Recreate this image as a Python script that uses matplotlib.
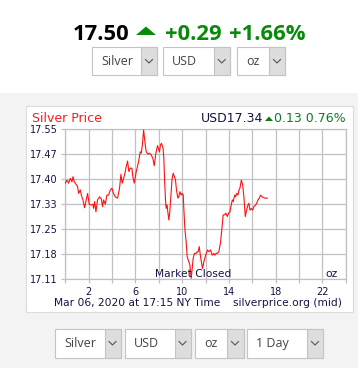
import matplotlib
matplotlib.use('Agg')
import matplotlib.pyplot as plt
from matplotlib.patches import Rectangle, Polygon

# price trace, hours (NY time) vs USD/oz
hours = [0.00, 0.14, 0.28, 0.43, 0.57, 0.66, 0.77, 0.91, 1.05, 1.14, 1.28, 1.37,
         1.51, 1.65, 1.79, 1.91, 2.05, 2.22, 2.36, 2.42, 2.51, 2.62, 2.76, 2.93,
         3.08, 3.19, 3.28, 3.42, 3.56, 3.70, 3.85, 3.99, 4.13, 4.27, 4.47, 4.64,
         4.76, 4.87, 4.99, 5.10, 5.21, 5.33, 5.44, 5.56, 5.70, 5.78, 5.90, 6.07,
         6.27, 6.41, 6.50, 6.61, 6.70, 6.81, 6.92, 7.07, 7.21, 7.35, 7.49, 7.61,
         7.75, 7.89, 8.06, 8.14, 8.23, 8.37, 8.43, 8.49, 8.57, 8.63, 8.71, 8.77,
         8.86, 8.94, 9.06, 9.14, 9.23, 9.34, 9.43, 9.51, 9.63, 9.71, 9.80, 9.91,
         10.00, 10.09, 10.14, 10.23, 10.34, 10.43, 10.57, 10.66, 10.71, 10.77,
         10.86, 10.94, 11.06, 11.20, 11.29, 11.37, 11.46, 11.57, 11.66, 11.74,
         11.86, 11.94, 12.06, 12.17, 12.29, 12.43, 12.57, 12.71, 12.80, 12.91,
         13.00, 13.14, 13.29, 13.37, 13.51, 13.63, 13.74, 13.86, 13.97, 14.09,
         14.14, 14.29, 14.37, 14.49, 14.57, 14.66, 14.77, 14.86, 14.94, 15.06,
         15.17, 15.29, 15.40, 15.51, 15.63, 15.71, 15.80, 15.91, 16.03, 16.14,
         16.29, 16.37, 16.49, 16.60, 16.71, 16.83, 16.94, 17.09, 17.29]
prices = [17.392, 17.401, 17.392, 17.406, 17.396, 17.411, 17.396, 17.389, 17.382,
          17.362, 17.372, 17.357, 17.343, 17.320, 17.343, 17.362, 17.330, 17.328,
          17.330, 17.318, 17.338, 17.308, 17.343, 17.352, 17.346, 17.323, 17.343,
          17.330, 17.357, 17.357, 17.372, 17.377, 17.362, 17.352, 17.348, 17.377,
          17.418, 17.392, 17.406, 17.421, 17.440, 17.457, 17.426, 17.436, 17.436,
          17.411, 17.392, 17.426, 17.455, 17.484, 17.480, 17.509, 17.548, 17.514,
          17.484, 17.477, 17.480, 17.475, 17.465, 17.443, 17.480, 17.502, 17.484,
          17.504, 17.509, 17.494, 17.465, 17.406, 17.343, 17.318, 17.328, 17.308,
          17.284, 17.308, 17.367, 17.406, 17.421, 17.411, 17.401, 17.372, 17.348,
          17.352, 17.367, 17.357, 17.362, 17.357, 17.318, 17.259, 17.220, 17.176,
          17.162, 17.152, 17.132, 17.113, 17.142, 17.172, 17.186, 17.186, 17.191,
          17.191, 17.206, 17.176, 17.157, 17.142, 17.162, 17.172, 17.186, 17.196,
          17.191, 17.196, 17.181, 17.186, 17.181, 17.186, 17.186, 17.191, 17.220,
          17.250, 17.299, 17.299, 17.304, 17.294, 17.304, 17.308, 17.318, 17.343,
          17.338, 17.357, 17.352, 17.362, 17.357, 17.372, 17.377, 17.401, 17.389,
          17.348, 17.294, 17.313, 17.328, 17.333, 17.313, 17.318, 17.313, 17.323,
          17.328, 17.333, 17.343, 17.348, 17.357, 17.352, 17.350, 17.348, 17.348]

y_labels = ['17.11', '17.18', '17.25', '17.33', '17.40', '17.47', '17.55']
x_labeled = [2, 6, 10, 14, 18, 22]
x_all = list(range(0, 25, 2))

top_menus = ['Silver', 'USD', 'oz']
bottom_menus = ['Silver', 'USD', 'oz', '1 Day']

W, H = 360, 368
fig = plt.figure(figsize=(W / 100, H / 100), dpi=100)
fig.patch.set_facecolor('white')

# pixel-space background layer
bg = fig.add_axes([0, 0, 1, 1])
bg.set_xlim(0, W)
bg.set_ylim(H, 0)
bg.axis('off')

bg.add_patch(Rectangle((0, 93), 358, H - 93, fc='#f3f3f3', ec='none'))
bg.add_patch(Rectangle((25.5, 105.5), 327, 206, fc='white', ec='#dcdcdc', lw=0.8))

green = '#0a8a0a'
hfont = dict(family='Open Sans', weight='bold', fontsize=15.8, va='baseline')
bg.text(73, 40.5, '17.50', color='black', **hfont)
bg.add_patch(Polygon([[136, 35], [156, 35], [146, 26.5]], closed=True, fc=green, ec='none'))
bg.text(165, 40.5, '+0.29', color=green, **hfont)
bg.text(229, 40.5, '+1.66%', color=green, **hfont)


def dropdown(x0, x1, gx, y0, y1, label):
    bg.add_patch(Rectangle((x0, y0), x1 - x0, y1 - y0, fc='white', ec='#c4c4c4', lw=0.8))
    bg.add_patch(Rectangle((gx, y0), x1 - gx, y1 - y0, fc='#dddddd', ec='#c4c4c4', lw=0.8))
    cx, cy = (gx + x1) / 2, (y0 + y1) / 2
    bg.plot([cx - 3.5, cx, cx + 3.5], [cy - 1.5, cy + 2, cy - 1.5], color='#555555', lw=0.8)
    bg.text(x0 + 9.5, cy + 0.5, label, family='Open Sans', fontsize=9, color='#444444',
            ha='left', va='center')


top_boxes = [(92, 157, 141), (162.5, 229.5, 214), (236.5, 285, 269)]
for (x0, x1, gx), lab in zip(top_boxes, top_menus):
    dropdown(x0, x1, gx, 47, 75, lab)

bot_boxes = [(54.5, 120.5, 104.5), (124.5, 190.5, 174.5), (194.5, 243.5, 226.5),
             (247, 323, 307)]
for (x0, x1, gx), lab in zip(bot_boxes, bottom_menus):
    dropdown(x0, x1, gx, 328.5, 357.5, lab)

# chart header / footer
navy = '#141446'
bg.text(32, 122, 'Silver Price', color='#ff1a1a', fontsize=9, va='baseline')
bg.text(345.5, 122, '0.13 0.76%', color='#0a7a2a', fontsize=9, va='baseline', ha='right')
bg.text(263.5, 122, 'USD17.34', color=navy, fontsize=9, va='baseline', ha='right')
bg.add_patch(Polygon([[265, 121], [273, 121], [269, 116.5]], closed=True, fc='#0a7a0a', ec='none'))
bg.text(54, 306, 'Mar 06, 2020 at 17:15 NY Time', color=navy, fontsize=7.7, va='baseline')
bg.text(342, 306, 'silverprice.org (mid)', color=navy, fontsize=7.7, va='baseline', ha='right')

# chart
ax = fig.add_axes([65.3 / W, 1 - 279.3 / H, 280.5 / W, 150 / H])
ax.set_facecolor('white')
ymin, ymax = float(y_labels[0]), float(y_labels[-1])
ax.set_xlim(0, 24)
ax.set_ylim(ymin, ymax)

ax.plot(hours, prices, color='#ff1010', lw=0.8, zorder=3)

yt = [ymin + i * (ymax - ymin) / (len(y_labels) - 1) for i in range(len(y_labels))]
ax.set_yticks(yt)
ax.set_yticklabels(y_labels)
ax.set_xticks(x_labeled)
ax.set_xticklabels([str(v) for v in x_labeled])
ax.set_xticks([v for v in x_all if v not in x_labeled], minor=True)
ax.grid(True, which='both', color='#c0c0c0', lw=0.9)
ax.set_axisbelow(True)
for s in ax.spines.values():
    s.set_color('#c0c0c0')
    s.set_linewidth(0.9)
ax.tick_params(axis='both', which='both', colors='#c0c0c0', labelcolor=navy,
               labelsize=7, length=3, width=0.9)
ax.tick_params(axis='x', which='both', pad=2.5)
ax.tick_params(axis='y', pad=2.5)

ax.text(10.9, 17.117, 'Market Closed', color=navy, fontsize=7.7, ha='center', va='baseline')
ax.text(23.3, 17.117, 'oz', color=navy, fontsize=7.7, ha='right', va='baseline')

fig.savefig('out.png', dpi=100)
